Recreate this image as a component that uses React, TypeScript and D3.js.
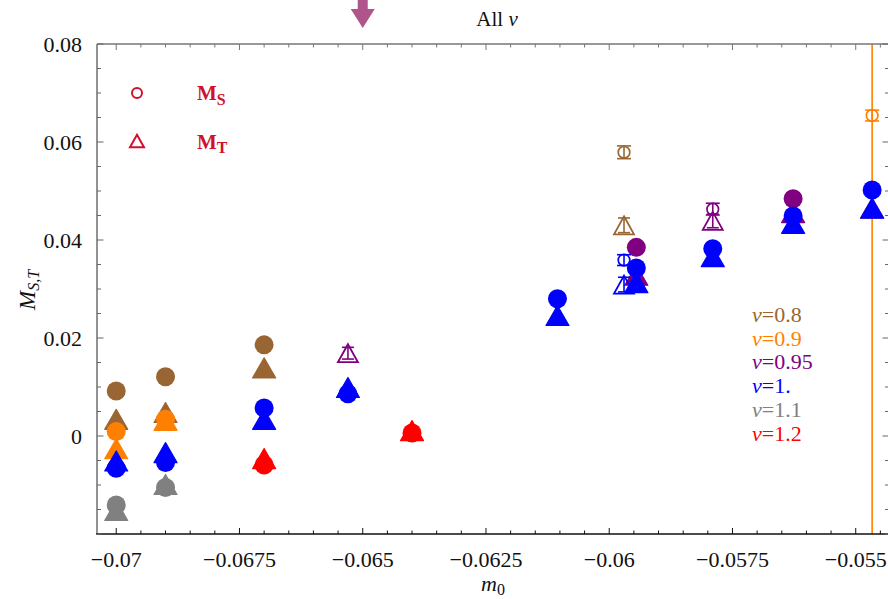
import React from "react";
import * as d3 from "d3";

// ---- axes -------------------------------------------------------------
const X_TICKS = [-0.07, -0.0675, -0.065, -0.0625, -0.06, -0.0575, -0.055];
const X_TICK_LABELS = ["−0.07", "−0.0675", "−0.065", "−0.0625", "−0.06", "−0.0575", "−0.055"];
const Y_TICKS = [0, 0.02, 0.04, 0.06, 0.08];
const Y_TICK_LABELS = ["0", "0.02", "0.04", "0.06", "0.08"];

// ---- series: [m0, value, error?] ------------------------------------
const NU08_MS = [[-0.07, 0.0092], [-0.069, 0.0121], [-0.067, 0.0186]];
const NU08_MT = [[-0.07, 0.0033], [-0.069, 0.0047], [-0.067, 0.0138]];
const NU08_MS_OPEN = [[-0.0597, 0.0579, 0.0013]];
const NU08_MT_OPEN = [[-0.0597, 0.043, 0.0015]];

const NU09_MS = [[-0.07, 0.0009], [-0.069, 0.0034]];
const NU09_MT = [[-0.07, -0.0027], [-0.069, 0.0031], [-0.054667, 0.0464, 0.12]];
const NU09_MS_OPEN = [[-0.054667, 0.0654, 0.0011]];

const NU095_MS = [[-0.05945, 0.0385], [-0.05627, 0.0484]];
const NU095_MT = [[-0.05945, 0.0327], [-0.05627, 0.0455]];
const NU095_MS_OPEN = [[-0.0579, 0.0463, 0.0012]];
const NU095_MT_OPEN = [[-0.0653, 0.0169, 0.0012], [-0.0579, 0.0439, 0.0014]];

const NU1_MS = [[-0.07, -0.0066], [-0.069, -0.0054], [-0.067, 0.0057], [-0.0653, 0.0086], [-0.06105, 0.028], [-0.05945, 0.0343], [-0.0579, 0.0382], [-0.05627, 0.0449], [-0.054667, 0.0502]];
const NU1_MT = [[-0.07, -0.0052], [-0.069, -0.0035], [-0.067, 0.0033], [-0.0653, 0.0098], [-0.06105, 0.0245], [-0.05945, 0.0312], [-0.0579, 0.0365], [-0.05627, 0.0433], [-0.054667, 0.0464]];
const NU1_MS_OPEN = [[-0.0597, 0.0359, 0.0011]];
const NU1_MT_OPEN = [[-0.0597, 0.0309, 0.0015]];

const NU11_MS = [[-0.07, -0.0141], [-0.069, -0.0105]];
const NU11_MT = [[-0.07, -0.0153], [-0.069, -0.01]];

const NU12_MS = [[-0.067, -0.0059], [-0.064, 0.0006]];
const NU12_MT = [[-0.067, -0.0047], [-0.064, 0.001]];

const NU_LABELS = ["0.8", "0.9", "0.95", "1.", "1.1", "1.2"];
const NU_COLORS = ["#996633", "#ff8000", "#800080", "#0000ff", "#808080", "#ff0000"];

type Pt = number[];
interface Series { color: string; ms: Pt[]; mt: Pt[]; msOpen: Pt[]; mtOpen: Pt[] }

const SERIES: Series[] = [
  { color: NU_COLORS[0], ms: NU08_MS, mt: NU08_MT, msOpen: NU08_MS_OPEN, mtOpen: NU08_MT_OPEN },
  { color: NU_COLORS[1], ms: NU09_MS, mt: NU09_MT, msOpen: NU09_MS_OPEN, mtOpen: [] },
  { color: NU_COLORS[2], ms: NU095_MS, mt: NU095_MT, msOpen: NU095_MS_OPEN, mtOpen: NU095_MT_OPEN },
  { color: NU_COLORS[3], ms: NU1_MS, mt: NU1_MT, msOpen: NU1_MS_OPEN, mtOpen: NU1_MT_OPEN },
  { color: NU_COLORS[4], ms: NU11_MS, mt: NU11_MT, msOpen: [], mtOpen: [] },
  { color: NU_COLORS[5], ms: NU12_MS, mt: NU12_MT, msOpen: [], mtOpen: [] },
];

// ---- layout -----------------------------------------------------------
const W = 888;
const H = 599;
const L = 97;
const R = 889;
const T = 44;
const B = 534;
const FONT = "Liberation Serif, Times New Roman, DejaVu Serif, serif";
const LEGEND_RED = "#d0112b";

const x = d3.scaleLinear().domain([-0.07039, -0.054325]).range([L, R]);
const y = d3.scaleLinear().domain([-0.02, 0.08]).range([B, T]);

const xMinor = d3.range(-0.0700, -0.0543, 0.0005).map((v) => +v.toFixed(4));
const yMinor = d3.range(-0.02, 0.0801, 0.005).map((v) => +v.toFixed(3));

const triFilled = (cx: number, cy: number) =>
  `M${cx},${cy - 10.5}L${cx + 11.5},${cy + 9.5}L${cx - 11.5},${cy + 9.5}Z`;
const triOpen = (cx: number, cy: number, s = 1) =>
  `M${cx},${cy - 9 * s}L${cx + 10 * s},${cy + 9 * s}L${cx - 10 * s},${cy + 9 * s}Z`;

function ErrorBar({ cx, v, err, color, cap }: { cx: number; v: number; err?: number; color: string; cap: number }) {
  if (!err) return null;
  const y1 = y(v + err);
  const y2 = y(v - err);
  return (
    <g stroke={color} strokeWidth={1.6}>
      <line x1={cx} x2={cx} y1={y1} y2={y2} />
      <line x1={cx - cap / 2} x2={cx + cap / 2} y1={y1} y2={y1} />
      <line x1={cx - cap / 2} x2={cx + cap / 2} y1={y2} y2={y2} />
    </g>
  );
}

const serif = { fontFamily: FONT } as React.CSSProperties;

export default function App() {
  return (
    <svg
      width={W}
      height={H}
      viewBox={`0 0 ${W} ${H}`}
      style={{ position: "absolute", left: 0, top: 0, background: "#fff", fontFamily: FONT }}
    >
      <defs>
        <clipPath id="plotArea">
          <rect x={L} y={T} width={R - L} height={B - T} />
        </clipPath>
      </defs>
      <rect x={0} y={0} width={W} height={H} fill="#fff" />

      {/* data */}
      <g clipPath="url(#plotArea)">
        {SERIES.map((s, si) => (
          <g key={si}>
            {s.msOpen.map((p, i) => (
              <g key={"so" + i}>
                <ErrorBar cx={x(p[0])} v={p[1]} err={p[2]} color={s.color} cap={14} />
                <circle cx={x(p[0])} cy={y(p[1])} r={5.8} fill="none" stroke={s.color} strokeWidth={1.7} />
              </g>
            ))}
            {s.mtOpen.map((p, i) => (
              <g key={"to" + i}>
                <ErrorBar cx={x(p[0])} v={p[1]} err={p[2]} color={s.color} cap={12} />
                <path d={triOpen(x(p[0]), y(p[1]))} fill="none" stroke={s.color} strokeWidth={1.8} strokeLinejoin="miter" />
              </g>
            ))}
            {s.ms.map((p, i) => (
              <g key={"s" + i}>
                <ErrorBar cx={x(p[0])} v={p[1]} err={p[2]} color={s.color} cap={14} />
                <circle cx={x(p[0])} cy={y(p[1])} r={9.5} fill={s.color} />
              </g>
            ))}
            {s.mt.map((p, i) => (
              <g key={"t" + i}>
                <ErrorBar cx={x(p[0])} v={p[1]} err={p[2]} color={s.color} cap={14} />
                <path d={triFilled(x(p[0]), y(p[1]))} fill={s.color} stroke={s.color} strokeWidth={1.2} strokeLinejoin="round" />
              </g>
            ))}
          </g>
        ))}
      </g>

      {/* frame */}
      <g fill="none" strokeWidth={1.6}>
        <line x1={L} x2={R} y1={T} y2={T} stroke="#777" />
        <line x1={L} x2={L} y1={T} y2={B} stroke="#777" />
        <line x1={R} x2={R} y1={T} y2={B} stroke="#777" />
        <line x1={L - 0.8} x2={R} y1={B} y2={B} stroke="#111" />
      </g>

      {/* x ticks, bottom and top */}
      <g strokeWidth={1}>
        {xMinor.map((v, i) => {
          const major = X_TICKS.some((t) => Math.abs(t - v) < 1e-7);
          const len = major ? 6 : 3.5;
          return (
            <g key={i}>
              <line x1={x(v)} x2={x(v)} y1={B} y2={B - len} stroke="#111" />
              <line x1={x(v)} x2={x(v)} y1={T} y2={T + len} stroke="#777" />
            </g>
          );
        })}
      </g>
      {/* y ticks, left and right */}
      <g strokeWidth={1}>
        {yMinor.map((v, i) => {
          const major = Y_TICKS.some((t) => Math.abs(t - v) < 1e-7);
          const len = major ? 6.5 : 4;
          return (
            <g key={i} stroke="#666">
              <line x1={L} x2={L + len} y1={y(v)} y2={y(v)} />
              <line x1={R} x2={R - len} y1={y(v)} y2={y(v)} />
            </g>
          );
        })}
      </g>

      {/* tick labels */}
      <g style={serif} fontSize={22} fill="#111">
        {X_TICKS.map((t, i) => (
          <text key={i} x={x(t)} y={567} textAnchor="middle" style={serif}>
            {X_TICK_LABELS[i]}
          </text>
        ))}
        {Y_TICKS.map((t, i) => (
          <text key={i} x={82} y={y(t) + 7.5} textAnchor="end" style={serif}>
            {Y_TICK_LABELS[i]}
          </text>
        ))}
      </g>

      {/* axis titles */}
      <text x={493} y={591} style={serif} fontSize={22} textAnchor="middle" fill="#111">
        <tspan fontStyle="italic">m</tspan>
        <tspan fontSize={16} dy={4}>0</tspan>
      </text>
      <text
        transform="translate(35,290) rotate(-90)"
        style={serif}
        fontSize={23}
        textAnchor="middle"
        fill="#111"
        fontStyle="italic"
      >
        <tspan>M</tspan>
        <tspan fontSize={16} dy={4}>S,T</tspan>
      </text>

      {/* plot title */}
      <text x={497} y={26} style={serif} fontSize={21} textAnchor="middle" fill="#111">
        All <tspan fontStyle="italic">ν</tspan>
      </text>

      {/* marker at m0 = -0.065 */}
      <path
        d={`M${x(-0.065) - 5},0L${x(-0.065) + 5},0L${x(-0.065) + 5},9L${x(-0.065) + 12},9L${x(-0.065)},28L${x(-0.065) - 12},9L${x(-0.065) - 5},9Z`}
        fill="#b0558b"
      />

      {/* symbol legend */}
      <g>
        <circle cx={137} cy={93} r={5} fill="none" stroke={LEGEND_RED} strokeWidth={2} />
        <path d={triOpen(137, 141, 0.7)} fill="none" stroke={LEGEND_RED} strokeWidth={2} />
        <text x={197} y={100} style={serif} fontSize={21} fontWeight="bold" fill={LEGEND_RED}>
          M<tspan fontSize={16} dy={5}>S</tspan>
        </text>
        <text x={197} y={149} style={serif} fontSize={21} fontWeight="bold" fill={LEGEND_RED}>
          M<tspan fontSize={16} dy={4}>T</tspan>
        </text>
      </g>

      {/* ν legend */}
      <g style={serif} fontSize={22}>
        {NU_LABELS.map((lab, i) => (
          <text key={i} x={752} y={322 + i * 23.7} fill={NU_COLORS[i]} style={serif}>
            <tspan fontStyle="italic">ν</tspan>={lab}
          </text>
        ))}
      </g>
    </svg>
  );
}
